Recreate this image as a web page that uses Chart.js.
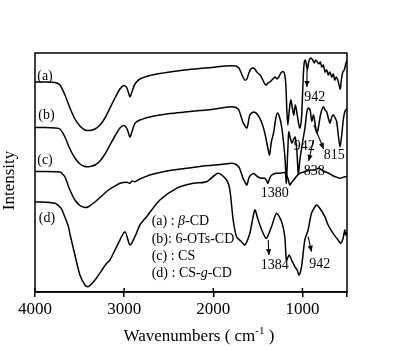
<!DOCTYPE html>
<html><head><meta charset="utf-8">
<script src="https://cdn.jsdelivr.net/npm/chart.js@4"></script>
<style>html,body{margin:0;padding:0;background:#fff;}#wrap{width:414px;height:358px;position:relative;}</style>
</head><body><div id="wrap"><canvas id="c" width="414" height="358"></canvas></div>
<script>
// ---- data (wavenumber, cm-1) / relative intensity (arbitrary units, stacked) ----
const wnA = [4000,3888,3776,3720,3664,3608,3552,3496,3440,3406,3383,3327,3271,3215,3159,3103,3047,3002,2969,2935,2913,2879,2823,2711,2599,2487,2319,2150,2016,1870,1792,1747,1713,1691,1668,1646,1623,1601,1579,1556,1534,1511,1489,1467,1444,1422,1403,1388,1366,1343,1321,1304,1287,1265,1242,1214,1198,1186,1175,1164,1147,1130,1113,1097,1080,1063,1046,1029,1012,1001,990,979,968,957,945,934,923,906,884,867,850,833,816,799,783,766,746,727,710,693,671,654,637,620,603,589,575,564,547,531,514,500];
const intA = [210,210,209.5,207,197,184,173,166,162,161.5,161.5,163,167,174,184,194,203,206.5,204,195.3,200,208,213,216.5,218.5,220,222,223.5,224.5,226,226.3,226,224,220,215,212,213,219,223,224,223,220,218,216,212,208,207,209,210,212,214,215,213,215,219,220.3,217,207,182,167,182,192,184,177,187,180,170,164,172,192,217,230,232,228,222,228,232,234,232,229,232,230,228,230,225,227,220,222,217,220,215,218,212,215,212,207,203,212,220,222,228,232];

const wnB = [4000,3888,3776,3720,3664,3608,3552,3496,3440,3406,3383,3327,3271,3215,3159,3103,3047,3002,2969,2935,2913,2879,2823,2711,2599,2487,2319,2150,2016,1870,1792,1747,1713,1668,1623,1590,1545,1500,1455,1422,1388,1369,1349,1324,1298,1279,1254,1231,1209,1194,1181,1164,1153,1136,1119,1102,1082,1063,1046,1029,1007,985,970,951,934,914,895,876,861,839,822,802,783,764,746,727,704,690,671,652,632,615,598,578,559,542,525,500];
const intB = [164.5,164.5,164,163,155,143,134,128,125.5,125.3,125.5,127,131,138,147,156,164,166.5,163.5,155,160,168.7,172,175,177,178.5,180,181.5,182.5,184.5,185.3,184.5,182,170,164,177,180,177,169,159,144,137,150,159,174,179,174,164,147,132,109,142,160,154,149,152,155,142,118,132,145,157,165,180,184,182,171,177,170,159,164,175,182,185.3,182,180,172,169,175,177,174,170,157,145,157,172,180,184];

const wnC = [4000,3776,3720,3701,3664,3608,3552,3496,3440,3406,3327,3271,3215,3159,3103,3047,2969,2935,2913,2879,2823,2711,2599,2487,2319,2150,2016,1870,1792,1747,1713,1691,1668,1646,1623,1601,1579,1545,1500,1455,1422,1403,1388,1366,1343,1298,1254,1209,1186,1164,1141,1119,1097,1063,1029,985,951,906,861,816,783,746,710,671,637,603,581,547,525,500];
const intC = [120.5,120.3,120,119,115,102,92,86.5,84.5,85,90,94.5,99,103,106,108.7,109.7,108.7,111,110.3,113,117,119.5,121.5,123.5,125.5,126.7,128,128.7,127.5,125,120.3,114,110,107,114,117,118.5,115,113.7,113.7,111.5,108.7,114,117,118.7,118.7,119.5,118,114,107,110,112,116,118.7,120,121,122,122,123.7,122,120.3,119,117,115.5,114.5,113.7,114.5,115.3,115];

const wnD = [4000,3776,3701,3683,3627,3608,3552,3496,3440,3406,3383,3327,3196,3159,3084,2991,2935,2879,2823,2748,2599,2412,2225,2075,1945,1851,1814,1777,1739,1683,1646,1590,1534,1497,1441,1403,1347,1291,1234,1198,1179,1149,1122,1085,1059,1037,1010,973,936,898,842,805,749,712,656,600,570,544,525,514,500];
const intD = [90.3,88.7,83,79,66,58,37,17,7,5.3,6.5,12,28.7,32,45.3,60.3,47,55.3,67,75.3,92,103.7,108.7,110.3,118.7,112,102,72,55.3,50.3,47,58.7,82,72,58.7,53.7,65.3,78.7,70.3,55.3,32,37,32,25.3,22,17,25.3,52,62,78.7,87,83.7,75.3,67,58.7,52,48.7,53.7,62,57,60];

const xTickValues = [4000, 3000, 2000, 1000];
const curveTags = ['(a)', '(b)', '(c)', '(d)'];
const curveTagAt = [[3888, 216], [3871, 177], [3888, 132], [3865, 74]];
const legendRows = [
  [['(a) : ', false], ['β', true], ['-CD', false]],
  [['(b): 6-OTs-CD', false]],
  [['(c) : CS', false]],
  [['(d) : CS-', false], ['g', true], ['-CD', false]]
];
const peakNotes = [
  {t: '942',  at: [861, 195],  arrow: [949, 222, 949, 205]},
  {t: '942',  at: [979, 146],  arrow: null},
  {t: '815',  at: [643, 137],  arrow: [872, 167, 762, 143]},
  {t: '838',  at: [867, 121],  arrow: [876, 152, 930, 131]},
  {t: '1380', at: [1310, 99],  arrow: null},
  {t: '1384', at: [1310, 27],  arrow: [1384, 52, 1376, 37]},
  {t: '942',  at: [805, 28],   arrow: [936, 55.3, 898, 40.3]}
];

const SERIF = "'Liberation Serif','Times New Roman',serif";
const pts = (xs, ys) => xs.map((x, i) => ({x: x, y: ys[i]}));

function arrow(ctx, x1, y1, x2, y2) {
  ctx.beginPath(); ctx.moveTo(x1, y1); ctx.lineTo(x2, y2); ctx.stroke();
  const a = Math.atan2(y2 - y1, x2 - x1), L = 6, W = 2.6;
  ctx.beginPath();
  ctx.moveTo(x2, y2);
  ctx.lineTo(x2 - L * Math.cos(a) + W * Math.sin(a), y2 - L * Math.sin(a) - W * Math.cos(a));
  ctx.lineTo(x2 - L * Math.cos(a) - W * Math.sin(a), y2 - L * Math.sin(a) + W * Math.cos(a));
  ctx.closePath(); ctx.fill();
}

const decor = {
  id: 'decor',
  afterDraw(chart) {
    const {ctx, chartArea: ca, scales: {x, y}} = chart;
    ctx.save();
    ctx.strokeStyle = '#000'; ctx.fillStyle = '#000';
    ctx.lineWidth = 1.5;
    ctx.strokeRect(ca.left, ca.top, ca.right - ca.left, ca.bottom - ca.top);
    xTickValues.forEach(v => {
      const px = x.getPixelForValue(v);
      ctx.beginPath(); ctx.moveTo(px, ca.bottom); ctx.lineTo(px, ca.bottom - 4); ctx.stroke();
    });
    ctx.font = '14px ' + SERIF; ctx.textAlign = 'center'; ctx.textBaseline = 'middle';
    curveTags.forEach((t, i) => ctx.fillText(t, x.getPixelForValue(curveTagAt[i][0]), y.getPixelForValue(curveTagAt[i][1])));
    ctx.lineWidth = 1.1;
    peakNotes.forEach(n => {
      ctx.fillText(n.t, x.getPixelForValue(n.at[0]), y.getPixelForValue(n.at[1]));
      if (n.arrow) arrow(ctx, x.getPixelForValue(n.arrow[0]), y.getPixelForValue(n.arrow[1]), x.getPixelForValue(n.arrow[2]), y.getPixelForValue(n.arrow[3]));
    });
    ctx.textAlign = 'left';
    const lx = ca.left + (ca.right - ca.left) * 0.374;
    const ly0 = ca.top + (ca.bottom - ca.top) * 0.706, dy = 17.3;
    legendRows.forEach((row, i) => {
      let cx = lx;
      row.forEach(([s, it]) => {
        ctx.font = (it ? 'italic ' : '') + '14px ' + SERIF;
        ctx.fillText(s, cx, ly0 + i * dy);
        cx += ctx.measureText(s).width;
      });
    });
    ctx.textBaseline = 'alphabetic';
    const parts = [['Wavenumbers ( cm', 17, 0], ['-1', 11, -7], [' )', 17, 0]];
    let tw = 0;
    parts.forEach(p => { ctx.font = p[1] + 'px ' + SERIF; tw += ctx.measureText(p[0]).width; });
    let tx = (ca.left + ca.right) / 2 + 8 - tw / 2;
    const tb = ca.bottom + 49;
    parts.forEach(p => { ctx.font = p[1] + 'px ' + SERIF; ctx.fillText(p[0], tx, tb + p[2]); tx += ctx.measureText(p[0]).width; });
    ctx.translate(10, (ca.top + ca.bottom) / 2 + 8);
    ctx.rotate(-Math.PI / 2);
    ctx.font = '17px ' + SERIF; ctx.textAlign = 'center'; ctx.textBaseline = 'middle';
    ctx.fillText('Intensity', 0, 0);
    ctx.restore();
  }
};

const ds = (d) => ({data: d, borderColor: '#000', borderWidth: 1.5, pointRadius: 0, tension: 0.25, fill: false});

new Chart(document.getElementById('c'), {
  type: 'line',
  data: {datasets: [ds(pts(wnA, intA)), ds(pts(wnB, intB)), ds(pts(wnC, intC)), ds(pts(wnD, intD))]},
  options: {
    responsive: false, animation: false, devicePixelRatio: 1,
    layout: {padding: {left: 35, top: 53, right: 67, bottom: 0}},
    plugins: {legend: {display: false}, tooltip: {enabled: false}},
    scales: {
      x: {
        type: 'linear', reverse: true, min: 500, max: 4000,
        afterFit: s => { s.height = 66; },
        afterBuildTicks: s => { s.ticks = [500, 1000, 2000, 3000, 4000].map(v => ({value: v})); },
        ticks: {callback: v => (v === 500 ? '' : String(v)), color: '#000', font: {family: SERIF, size: 17}, padding: 2, maxRotation: 0, autoSkip: false},
        grid: {drawOnChartArea: false, drawTicks: true, tickLength: 5, color: '#000', lineWidth: 1.5},
        border: {display: true, color: '#000', width: 1.5}
      },
      y: {display: false, min: 0, max: 239}
    }
  },
  plugins: [decor]
});
</script></body></html>
